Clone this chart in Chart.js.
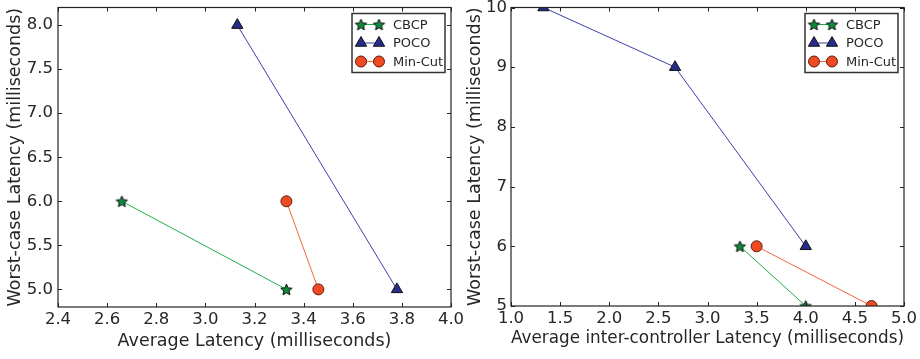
<!DOCTYPE html>
<html>
<head>
<meta charset="utf-8">
<script src="https://cdn.jsdelivr.net/npm/chart.js@4/dist/chart.umd.min.js"></script>
<style>
  html, body { margin: 0; padding: 0; background: #fff; }
  #wrap { position: relative; width: 920px; height: 359px; overflow: hidden; }
  #left { position: absolute; left: 0; top: 0; }
  #right { position: absolute; left: 460px; top: 0; }
</style>
</head>
<body>
<div id="wrap">
  <canvas id="left" width="470" height="359"></canvas>
  <canvas id="right" width="460" height="359"></canvas>
</div>
<script>
// left panel: average latency vs worst-case latency
const leftXTicks = [2.4, 2.6, 2.8, 3.0, 3.2, 3.4, 3.6, 3.8, 4.0];
const leftYTicks = [5.0, 5.5, 6.0, 6.5, 7.0, 7.5, 8.0];
const leftCbcpX = [2.66, 3.33];
const leftCbcpY = [6.0, 5.0];
const leftPocoX = [3.13, 3.78];
const leftPocoY = [8.0, 5.0];
const leftMinCutX = [3.33, 3.46];
const leftMinCutY = [6.0, 5.0];

// right panel: average inter-controller latency vs worst-case latency
const rightXTicks = [1.0, 1.5, 2.0, 2.5, 3.0, 3.5, 4.0, 4.5, 5.0];
const rightYTicks = [5, 6, 7, 8, 9, 10];
const rightCbcpX = [3.33, 4.0];
const rightCbcpY = [6, 5];
const rightPocoX = [1.33, 2.67, 4.0];
const rightPocoY = [10, 9, 6];
const rightMinCutX = [3.5, 4.67];
const rightMinCutY = [6, 5];

const FONT = "'DejaVu Sans', sans-serif";
const TEXT = "#262626";

function starImage(r, fill, stroke) {
  const s = Math.ceil(r * 2 + 3);
  const c = document.createElement("canvas");
  c.width = s; c.height = s;
  const g = c.getContext("2d");
  g.beginPath();
  for (let i = 0; i < 10; i++) {
    const rr = i % 2 ? r * 0.45 : r;
    const a = -Math.PI / 2 + i * Math.PI / 5;
    g.lineTo(s / 2 + rr * Math.cos(a), s / 2 + 0.6 + rr * Math.sin(a));
  }
  g.closePath();
  g.fillStyle = fill; g.fill();
  g.strokeStyle = stroke; g.lineWidth = 1; g.stroke();
  return c;
}
const star = starImage(6, "#0e8a3c", "#111");

function zip(xs, ys) {
  return xs.map((x, i) => ({ x: x, y: ys[i] }));
}

function series(label, xs, ys, kind) {
  const styles = {
    cbcp: { line: "#1fae4b", fill: "#0e8a3c", edge: "#111", pointStyle: star, radius: 6 },
    poco: { line: "#3a42a8", fill: "#252c8c", edge: "#111", pointStyle: "triangle", radius: 6.5 },
    mincut: { line: "#f2683a", fill: "#ef4a22", edge: "#5a1c0c", pointStyle: "circle", radius: 5.5 }
  }[kind];
  return {
    label: label,
    data: zip(xs, ys),
    showLine: true,
    borderColor: styles.line,
    borderWidth: 1,
    pointStyle: styles.pointStyle,
    pointRadius: styles.radius,
    pointBackgroundColor: styles.fill,
    pointBorderColor: styles.edge,
    pointBorderWidth: 1,
    clip: 0
  };
}

// box around the plot, inward ticks on all four sides, and the legend
const framePlugin = {
  id: "frame",
  afterDraw(chart) {
    const { ctx, chartArea: a, scales } = chart;
    const x = scales.x, y = scales.y;
    ctx.save();
    ctx.strokeStyle = "#222";
    ctx.lineWidth = 1.2;
    ctx.strokeRect(a.left, a.top, a.right - a.left, a.bottom - a.top);
    ctx.beginPath();
    x.ticks.forEach(t => {
      const p = Math.round(x.getPixelForValue(t.value)) + 0.5;
      ctx.moveTo(p, a.bottom); ctx.lineTo(p, a.bottom - 4);
      ctx.moveTo(p, a.top); ctx.lineTo(p, a.top + 4);
    });
    y.ticks.forEach(t => {
      const p = Math.round(y.getPixelForValue(t.value)) + 0.5;
      ctx.moveTo(a.left, p); ctx.lineTo(a.left + 4, p);
      ctx.moveTo(a.right, p); ctx.lineTo(a.right - 4, p);
    });
    ctx.lineWidth = 1;
    ctx.stroke();

    // legend
    const w = 93, h = 59;
    const lx = a.right - 6 - w, ly = a.top + 6;
    ctx.fillStyle = "#fff";
    ctx.fillRect(lx, ly, w, h);
    ctx.strokeStyle = "#333";
    ctx.lineWidth = 1.5;
    ctx.strokeRect(lx, ly, w, h);
    ctx.font = "13px " + FONT;
    ctx.textBaseline = "middle";
    chart.data.datasets.forEach((ds, i) => {
      const ry = ly + 11 + i * 18.5;
      const m1 = lx + 9, m2 = lx + 27;
      ctx.beginPath();
      ctx.strokeStyle = ds.borderColor;
      ctx.lineWidth = 1;
      ctx.moveTo(m1, ry); ctx.lineTo(m2, ry);
      ctx.stroke();
      [m1, m2].forEach(mx => {
        ctx.fillStyle = ds.pointBackgroundColor;
        ctx.strokeStyle = ds.pointBorderColor;
        ctx.lineWidth = 1;
        Chart.helpers.drawPoint(ctx, {
          pointStyle: ds.pointStyle, radius: ds.pointRadius, borderWidth: 1, rotation: 0
        }, mx, ry);
      });
      ctx.fillStyle = TEXT;
      ctx.fillText(ds.label, lx + 41, ry + 1);
    });
    ctx.restore();
  }
};

function makeChart(id, datasets, o) {
  return new Chart(document.getElementById(id), {
    type: "scatter",
    data: { datasets: datasets },
    options: {
      responsive: false,
      animation: false,
      layout: { padding: { top: o.padTop, right: o.padRight, bottom: 0, left: 0 } },
      plugins: { legend: { display: false }, tooltip: { enabled: false } },
      scales: {
        x: {
          type: "linear",
          min: o.xMin, max: o.xMax,
          afterBuildTicks: s => { s.ticks = o.xTicks.map(v => ({ value: v })); },
          afterFit: s => { s.height = o.xHeight; s.paddingLeft = 0; s.paddingRight = 0; },
          grid: { display: false, drawTicks: false },
          border: { display: false },
          ticks: {
            padding: 3, color: TEXT, font: { family: FONT, size: 16.5 },
            maxRotation: 0, autoSkip: false,
            callback: v => v.toFixed(1)
          },
          title: {
            display: true, text: o.xTitle, color: TEXT,
            font: { family: FONT, size: 17.5 }, padding: { top: 0, bottom: o.xTitlePad }
          }
        },
        y: {
          type: "linear",
          min: o.yMin, max: o.yMax,
          afterBuildTicks: s => { s.ticks = o.yTicks.map(v => ({ value: v })); },
          afterFit: s => { s.width = o.yWidth; s.paddingTop = 0; s.paddingBottom = 0; },
          grid: { display: false, drawTicks: false },
          border: { display: false },
          ticks: {
            padding: o.yTickPad, color: TEXT, font: { family: FONT, size: 16.5 },
            autoSkip: false,
            callback: v => o.yFmt(v)
          },
          title: {
            display: true, text: "Worst-case Latency (milliseconds)", color: TEXT,
            font: { family: FONT, size: 17.5 }, padding: { top: 4.5, bottom: 0 }
          }
        }
      }
    },
    plugins: [framePlugin]
  });
}

makeChart("left", [
  series("CBCP", leftCbcpX, leftCbcpY, "cbcp"),
  series("POCO", leftPocoX, leftPocoY, "poco"),
  series("Min-Cut", leftMinCutX, leftMinCutY, "mincut")
], {
  xMin: 2.4, xMax: 4.0, yMin: 4.8, yMax: 8.2,
  xTicks: leftXTicks, yTicks: leftYTicks,
  xTitle: "Average Latency (milliseconds)",
  padTop: 2, padRight: 19, xHeight: 52, yWidth: 58,
  xTitlePad: 7.5, yTickPad: 5,
  yFmt: v => v.toFixed(1)
});

makeChart("right", [
  series("CBCP", rightCbcpX, rightCbcpY, "cbcp"),
  series("POCO", rightPocoX, rightPocoY, "poco"),
  series("Min-Cut", rightMinCutX, rightMinCutY, "mincut")
], {
  xMin: 1.0, xMax: 5.0, yMin: 5, yMax: 10,
  xTicks: rightXTicks, yTicks: rightYTicks,
  xTitle: "Average inter-controller Latency (milliseconds)",
  padTop: 3, padRight: 16, xHeight: 53, yWidth: 51,
  xTitlePad: 10.5, yTickPad: 4,
  yFmt: v => String(v)
});
</script>
</body>
</html>
